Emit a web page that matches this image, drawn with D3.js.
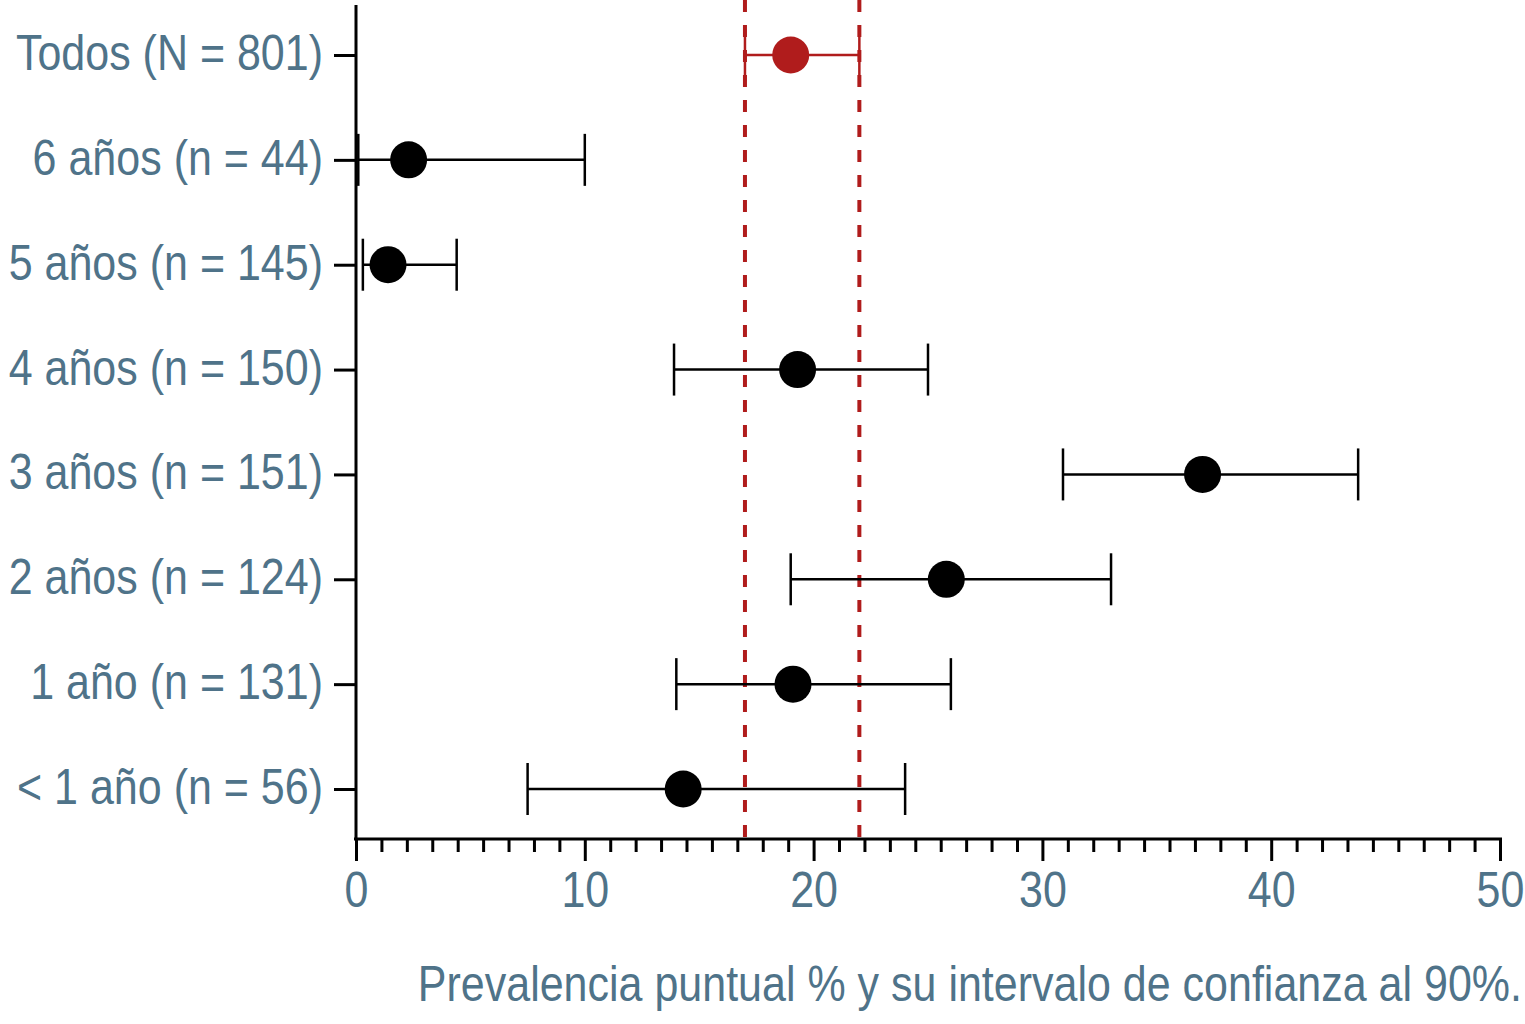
<!DOCTYPE html>
<html>
<head>
<meta charset="utf-8">
<script src="https://cdnjs.cloudflare.com/ajax/libs/d3/7.8.5/d3.min.js"></script>
<style>
  body { margin: 0; background: #fff; }
  text { font-family: "Liberation Sans", Arial, sans-serif; }
</style>
</head>
<body>
<script>
// data
let groups = ["Todos (N = 801)", "6 años (n = 44)", "5 años (n = 145)", "4 años (n = 150)",
              "3 años (n = 151)", "2 años (n = 124)", "1 año (n = 131)", "< 1 año (n = 56)"];
let prevalence = [19.0, 2.3, 1.4, 19.3, 37.0, 25.8, 19.1, 14.3];
let ciLow      = [17.0, 0.1, 0.3, 13.9, 30.9, 19.0, 14.0, 7.5];
let ciHigh     = [22.0, 10.0, 4.4, 25.0, 43.8, 33.0, 26.0, 24.0];
let xTicks = [0, 10, 20, 30, 40, 50];
let xTitle = "Prevalencia puntual % y su intervalo de confianza al 90%.";

let width = 1525, height = 1024;
let textColor = "#4f7389";
let red = "#b01c1c";
let squeeze = 0.86; // narrow the font horizontally, like a condensed face

let svg = d3.select("body").append("svg")
    .attr("width", width)
    .attr("height", height);

let x = d3.scaleLinear().domain([0, 50]).range([356, 1500]);
let y = d3.scalePoint().domain(groups).range([55, 789]);

let rows = groups.map(function(g, i) {
    return { name: g, p: prevalence[i], lo: ciLow[i], hi: ciHigh[i], overall: i === 0 };
});

// reference lines for overall CI
svg.selectAll("line.ref")
    .data([ciLow[0], ciHigh[0]])
    .enter()
    .append("line")
        .attr("class", "ref")
        .attr("x1", function(d){ return x(d); })
        .attr("x2", function(d){ return x(d); })
        .attr("y1", 0)
        .attr("y2", 839)
        .attr("stroke", red)
        .attr("stroke-width", 4)
        .attr("stroke-dasharray", "12,13");

// x axis: major ticks
let xAxis = svg.append("g")
    .attr("transform", "translate(0,839)")
    .call(d3.axisBottom(x).tickValues(xTicks).tickSize(22).tickPadding(11).tickFormat(d3.format("d")));
xAxis.select(".domain").attr("stroke", "#000").attr("stroke-width", 3).attr("d", "M354,0H1502");
xAxis.selectAll(".tick line").attr("stroke", "#000").attr("stroke-width", 3);
xAxis.selectAll(".tick text")
    .attr("fill", textColor)
    .attr("font-size", 50)
    .attr("transform", "scale(" + squeeze + ",1)");

// minor ticks, 9 subdivisions per 10
let minor = d3.range(0, 46).map(function(k){ return k * 10 / 9; })
    .filter(function(v, k){ return k % 9 !== 0; });
let xMinor = svg.append("g")
    .attr("transform", "translate(0,839)")
    .call(d3.axisBottom(x).tickValues(minor).tickSize(13).tickFormat(""));
xMinor.select(".domain").remove();
xMinor.selectAll(".tick line").attr("stroke", "#000").attr("stroke-width", 3);

// y axis
let yAxis = svg.append("g")
    .attr("transform", "translate(356,0)")
    .call(d3.axisLeft(y).tickSize(22).tickPadding(12));
yAxis.select(".domain").attr("stroke", "#000").attr("stroke-width", 3).attr("d", "M0,5V840");
yAxis.selectAll(".tick line").attr("stroke", "#000").attr("stroke-width", 3);
yAxis.selectAll(".tick text")
    .attr("fill", textColor)
    .attr("font-size", 50)
    .attr("x", -33 / squeeze)
    .attr("dy", "0.29em")
    .attr("transform", "scale(" + squeeze + ",1)");

// error bars
let bars = svg.selectAll("g.row")
    .data(rows)
    .enter()
    .append("g")
        .attr("class", "row")
        .attr("stroke", function(d){ return d.overall ? red : "#000"; })
        .attr("stroke-width", 2.5);

bars.append("line")
    .attr("x1", function(d){ return x(d.lo); })
    .attr("x2", function(d){ return x(d.hi); })
    .attr("y1", function(d){ return y(d.name); })
    .attr("y2", function(d){ return y(d.name); });

bars.selectAll("line.cap")
    .data(function(d){ return [{ v: d.lo, n: d.name }, { v: d.hi, n: d.name }]; })
    .enter()
    .append("line")
        .attr("class", "cap")
        .attr("x1", function(d){ return x(d.v); })
        .attr("x2", function(d){ return x(d.v); })
        .attr("y1", function(d){ return y(d.n) - 26; })
        .attr("y2", function(d){ return y(d.n) + 26; });

svg.selectAll("circle.pt")
    .data(rows)
    .enter()
    .append("circle")
        .attr("class", "pt")
        .attr("cx", function(d){ return x(d.p); })
        .attr("cy", function(d){ return y(d.name); })
        .attr("r", 18.5)
        .style("fill", function(d){ return d.overall ? red : "#000"; });

// axis title
svg.append("text")
    .attr("transform", "translate(1522,1001) scale(" + squeeze + ",1)")
    .attr("text-anchor", "end")
    .attr("fill", textColor)
    .attr("font-size", 50)
    .text(xTitle);
</script>
</body>
</html>
